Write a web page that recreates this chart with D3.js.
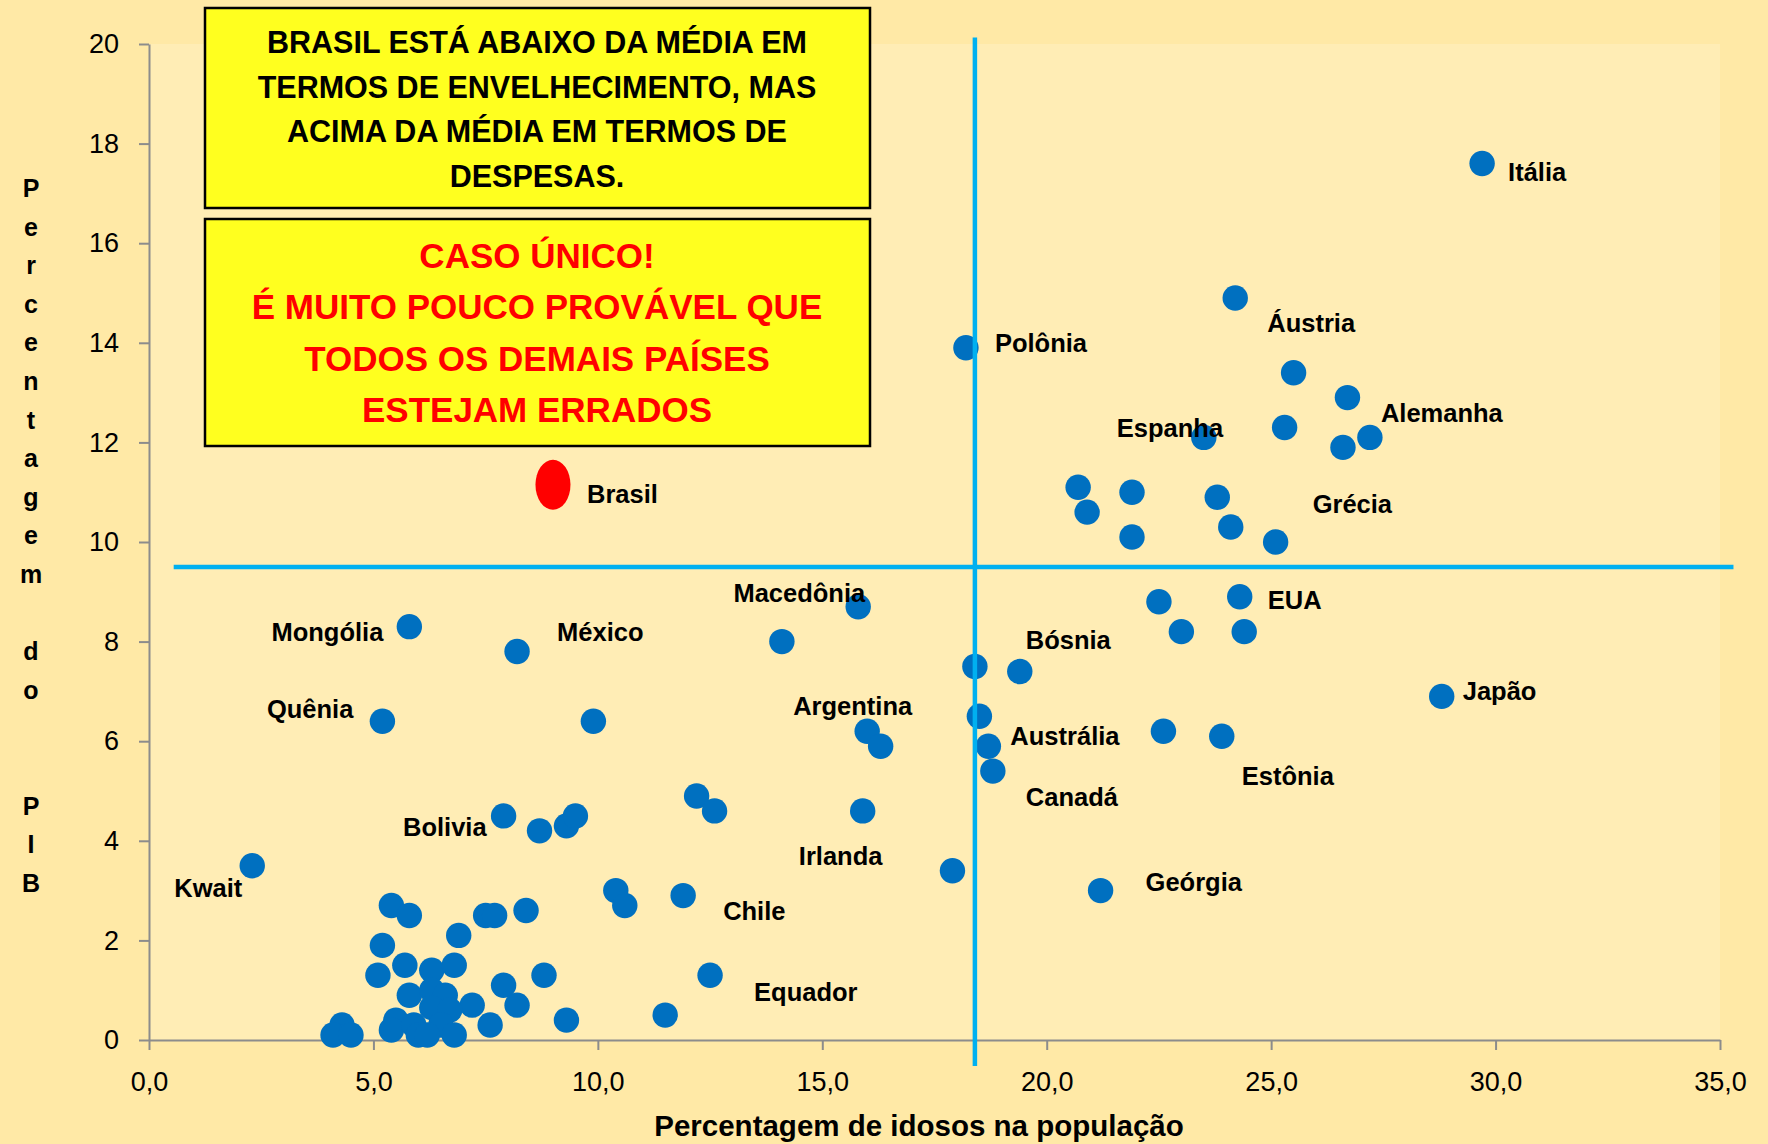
<!DOCTYPE html>
<html lang="pt-BR">

<head>
  <meta charset="utf-8">
  <title>Gasto com previdência x envelhecimento</title>
  <script src="https://cdn.jsdelivr.net/npm/d3@7"></script>
  <style>
    body {
      margin: 0;
      background: #FFE9A6;
      overflow: hidden;
    }

    .axis path,
    .axis line {
      fill: none;
      stroke: #8C8C8C;
      stroke-width: 2px;
    }

    .axis text {
      font-family: 'Liberation Sans', Arial, sans-serif;
      font-size: 27px;
      fill: #000;
    }

    .rotulo {
      font-family: 'Liberation Sans', Arial, sans-serif;
      font-weight: bold;
      font-size: 25.5px;
      fill: #000;
    }
  </style>
</head>

<body>
  <div id="chart"></div>
  <script>
    // dados: % de idosos (x) e gasto em % do PIB (y)
    const idosos = [
      29.7, 24.2, 18.2, 25.5, 26.7, 25.3, 23.5, 27.2, 26.6, 20.7, 21.9, 23.8, 20.9, 24.1, 21.9, 25.1,
      15.8, 22.5, 24.3, 23.0, 24.4, 5.8, 8.2, 14.1, 18.4, 19.4, 28.8, 5.2, 9.9, 16.0, 16.3, 18.5,
      18.7, 22.6, 23.9, 18.8, 12.2, 12.6, 15.9, 7.9, 8.7, 9.3, 9.5, 2.3, 17.9, 21.2, 10.4, 10.6,
      11.9, 5.4, 5.8, 7.5, 7.7, 8.4, 6.9, 5.2, 5.7, 6.3, 6.8, 5.1, 8.8, 12.5, 7.9, 5.8,
      6.3, 6.6, 7.2, 8.2, 6.3, 6.7, 11.5, 9.3, 7.6, 5.5, 5.4, 5.9, 6.5, 4.3, 4.1, 4.5,
      6.0, 6.2, 6.8
    ]
    const gastoPib = [
      17.6, 14.9, 13.9, 13.4, 12.9, 12.3, 12.1, 12.1, 11.9, 11.1, 11.0, 10.9, 10.6, 10.3, 10.1, 10.0,
      8.7, 8.8, 8.9, 8.2, 8.2, 8.3, 7.8, 8.0, 7.5, 7.4, 6.9, 6.4, 6.4, 6.2, 5.9, 6.5,
      5.9, 6.2, 6.1, 5.4, 4.9, 4.6, 4.6, 4.5, 4.2, 4.3, 4.5, 3.5, 3.4, 3.0, 3.0, 2.7,
      2.9, 2.7, 2.5, 2.5, 2.5, 2.6, 2.1, 1.9, 1.5, 1.4, 1.5, 1.3, 1.3, 1.3, 1.1, 0.9,
      1.0, 0.9, 0.7, 0.7, 0.65, 0.6, 0.5, 0.4, 0.3, 0.4, 0.2, 0.3, 0.3, 0.3, 0.1, 0.1,
      0.1, 0.1, 0.1
    ]
    const paises = [
      'Itália', 'Áustria', 'Polônia', '', '', '', 'Espanha', 'Alemanha', '', '', '', '', '', '', '', 'Grécia',
      'Macedônia', '', 'EUA', '', '', 'Mongólia', 'México', '', '', 'Bósnia', 'Japão', 'Quênia', '', 'Argentina', '', '',
      'Austrália', '', 'Estônia', 'Canadá', '', '', '', 'Bolivia', '', '', '', 'Kwait', 'Irlanda', 'Geórgia', '', '',
      'Chile', '', '', '', '', '', '', '', '', '', '', '', '', 'Equador', '', '',
      '', '', '', '', '', '', '', '', '', '', '', '', '', '', '', '',
      '', '', ''
    ]

    // destaque
    const destaqueNome = ['Brasil']
    const destaqueIdosos = [9.0]
    const destaqueGasto = [11.15]

    // médias
    const mediaIdosos = 18.4
    const mediaGasto = 9.5

    const xTicks = [0, 5, 10, 15, 20, 25, 30, 35]
    const xTickLabels = ['0,0', '5,0', '10,0', '15,0', '20,0', '25,0', '30,0', '35,0']
    const yTicks = [0, 2, 4, 6, 8, 10, 12, 14, 16, 18, 20]

    const tituloX = 'Percentagem de idosos na população'
    const tituloY = 'Percentagem do  PIB'
    const caixa1 = ['BRASIL ESTÁ ABAIXO DA MÉDIA EM', 'TERMOS DE ENVELHECIMENTO, MAS', 'ACIMA DA MÉDIA EM TERMOS DE', 'DESPESAS.']
    const caixa2 = ['CASO ÚNICO!', 'É MUITO POUCO PROVÁVEL QUE', 'TODOS OS DEMAIS PAÍSES', 'ESTEJAM ERRADOS']

    // posição dos rótulos em relação ao ponto (px)
    const ajuste = {
      'Itália': [26, 17, 'start'], 'Áustria': [32, 34, 'start'], 'Polônia': [29, 4, 'start'],
      'Alemanha': [11, -15, 'start'], 'Espanha': [-87, 0, 'start'], 'Grécia': [37, -29, 'start'],
      'Macedônia': [7, -5, 'end'], 'EUA': [28, 12, 'start'], 'Mongólia': [-26, 14, 'end'],
      'México': [40, -11, 'start'], 'Bósnia': [6, -22, 'start'], 'Japão': [21, 4, 'start'],
      'Quênia': [-29, -3, 'end'], 'Argentina': [-74, -16, 'start'], 'Austrália': [22, -1, 'start'],
      'Estônia': [20, 49, 'start'], 'Canadá': [33, 35, 'start'], 'Bolivia': [-17, 20, 'end'],
      'Kwait': [-10, 31, 'end'], 'Irlanda': [-70, -6, 'end'], 'Geórgia': [45, 0, 'start'],
      'Chile': [40, 24, 'start'], 'Equador': [44, 26, 'start'], 'Brasil': [34, 18, 'start']
    }

    const W = 1768
    const H = 1144
    const fonte = "'Liberation Sans', Arial, sans-serif"

    const x = d3.scaleLinear().domain([0, 35]).range([149, 1720])
    const y = d3.scaleLinear().domain([0, 20]).range([1040, 44])

    const svg = d3.select('#chart')
      .append('svg')
      .attr('width', W)
      .attr('height', H)

    svg.append('rect').attr('width', W).attr('height', H).attr('fill', '#FFE9A6')

    // área do gráfico
    svg.append('rect')
      .attr('x', x(0))
      .attr('y', y(20))
      .attr('width', x(35) - x(0))
      .attr('height', y(0) - y(20))
      .attr('fill', '#FFEDB5')

    // eixos
    const eixoX = d3.axisBottom(x)
      .tickValues(xTicks)
      .tickFormat((d, i) => xTickLabels[i])
      .tickSizeInner(10)
      .tickSizeOuter(0)
      .tickPadding(22)
    svg.append('g')
      .attr('class', 'axis')
      .attr('transform', `translate(0, ${y(0)})`)
      .call(eixoX)

    const eixoY = d3.axisLeft(y)
      .tickValues(yTicks)
      .tickSizeInner(10)
      .tickSizeOuter(0)
      .tickPadding(20)
    svg.append('g')
      .attr('class', 'axis')
      .attr('transform', `translate(${x(0)}, 0)`)
      .call(eixoY)

    // pontos
    const pontos = idosos.map((v, i) => ({ nome: paises[i], x: v, y: gastoPib[i] }))
    svg.append('g')
      .selectAll('circle')
      .data(pontos)
      .enter()
      .append('circle')
      .attr('cx', d => x(d.x))
      .attr('cy', d => y(d.y))
      .attr('r', 12.7)
      .attr('fill', '#0070C0')

    // Brasil
    const destaque = destaqueNome.map((n, i) => ({ nome: n, x: destaqueIdosos[i], y: destaqueGasto[i] }))
    svg.append('g')
      .selectAll('ellipse')
      .data(destaque)
      .enter()
      .append('ellipse')
      .attr('cx', d => x(d.x))
      .attr('cy', d => y(d.y))
      .attr('rx', 17.5)
      .attr('ry', 25)
      .attr('fill', '#FF0000')

    // linhas das médias
    const linhas = svg.append('g')
      .attr('stroke', '#00B0F0')
      .attr('stroke-width', 4.5)
    linhas.append('line')
      .attr('x1', x(mediaIdosos)).attr('x2', x(mediaIdosos))
      .attr('y1', y(20.13)).attr('y2', y(-0.52))
    linhas.append('line')
      .attr('x1', x(0.55)).attr('x2', x(35.3))
      .attr('y1', y(mediaGasto)).attr('y2', y(mediaGasto))

    // rótulos
    const comRotulo = pontos.filter(d => d.nome).concat(destaque)
    svg.append('g')
      .selectAll('text')
      .data(comRotulo)
      .enter()
      .append('text')
      .attr('class', 'rotulo')
      .attr('x', d => x(d.x) + ajuste[d.nome][0])
      .attr('y', d => y(d.y) + ajuste[d.nome][1])
      .attr('text-anchor', d => ajuste[d.nome][2])
      .text(d => d.nome)

    // títulos dos eixos
    svg.append('text')
      .attr('x', 919)
      .attr('y', 1136)
      .attr('text-anchor', 'middle')
      .attr('font-family', fonte)
      .attr('font-weight', 'bold')
      .attr('font-size', 29.5)
      .text(tituloX)

    svg.append('g')
      .selectAll('text')
      .data(tituloY.split(''))
      .enter()
      .append('text')
      .attr('x', 31)
      .attr('y', (d, i) => 197 + i * 38.6)
      .attr('text-anchor', 'middle')
      .attr('font-family', fonte)
      .attr('font-weight', 'bold')
      .attr('font-size', 25)
      .text(d => d)

    // caixas de texto
    function caixa(linhasTexto, topo, altura, cor, tamanho, primeiraBase, passo) {
      const g = svg.append('g')
      g.append('rect')
        .attr('x', 205)
        .attr('y', topo)
        .attr('width', 665)
        .attr('height', altura)
        .attr('fill', '#FFFF1F')
        .attr('stroke', '#000')
        .attr('stroke-width', 2.5)
      g.selectAll('text')
        .data(linhasTexto)
        .enter()
        .append('text')
        .attr('x', 537)
        .attr('y', (d, i) => primeiraBase + i * passo)
        .attr('text-anchor', 'middle')
        .attr('font-family', fonte)
        .attr('font-weight', 'bold')
        .attr('font-size', tamanho)
        .attr('fill', cor)
        .text(d => d)
    }
    caixa(caixa1, 8, 200, '#000', 30.5, 53, 44.5)
    caixa(caixa2, 219, 227, '#FF0000', 35, 268, 51.3)
  </script>
</body>

</html>
